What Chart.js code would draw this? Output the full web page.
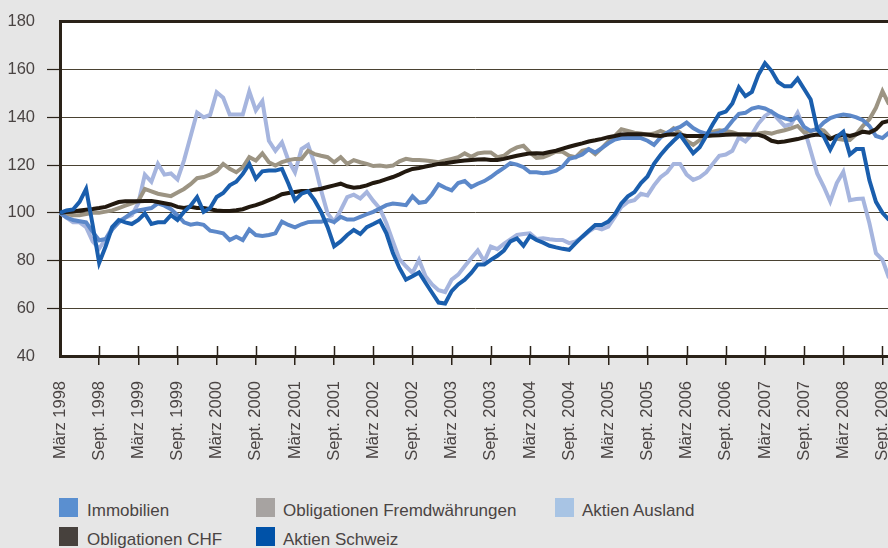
<!DOCTYPE html>
<html>
<head>
<meta charset="utf-8">
<script src="https://cdn.jsdelivr.net/npm/chart.js@4/dist/chart.umd.min.js"></script>
<style>
  html, body { margin: 0; padding: 0; background: #e6e6e6; width: 888px; height: 548px; overflow: hidden; }
  #wrap { position: relative; width: 888px; height: 548px; overflow: hidden; }
  canvas { position: absolute; left: 0; top: 0; }
  .sw { position: absolute; width: 19px; height: 19px; }
  .lt { position: absolute; font-family: "Liberation Sans", Arial, sans-serif; font-size: 17px; line-height: 19px; color: #4a4443; white-space: nowrap; }
</style>
</head>
<body>
<div id="wrap">
  <canvas id="c" width="890" height="470"></canvas>
  <div id="legend"></div>
</div>
<script>
// Tick labels shown every 6 months (März / Sept.)
const tickLabels = [
  "März 1998","Sept. 1998","März 1999","Sept. 1999","März 2000","Sept. 2000",
  "März 2001","Sept. 2001","März 2002","Sept. 2002","März 2003","Sept. 2003",
  "März 2004","Sept. 2004","März 2005","Sept. 2005","März 2006","Sept. 2006",
  "März 2007","Sept. 2007","März 2008","Sept. 2008"
];

// Monthly categories, March 1998 .. October 2008
const monthNames = ["Jan","Feb","März","Apr","Mai","Juni","Juli","Aug","Sept.","Okt","Nov","Dez"];
const categories = [];
for (let y = 1998; y <= 2008; y++) {
  for (let m = 0; m < 12; m++) {
    if (y === 1998 && m < 2) continue;
    if (y === 2008 && m > 9) continue;
    categories.push(monthNames[m] + " " + y);
  }
}

const seriesNames = ["Immobilien","Obligationen Fremdwährungen","Aktien Ausland","Obligationen CHF","Aktien Schweiz"];

const immobilien = [
  100,98,97,96.5,96,92,88.5,89,93,96,98,100,101,101.5,102,104,103,101.5,99,96,95,95.5,95,92.5,
  92,91.4,88.6,90,88.6,93,90.7,90.3,90.7,91.4,96.3,94.9,93.9,95.2,96.1,96.3,96.3,97,96.1,98.3,97.2,97.2,98.3,99.4,
  100.4,101.8,103.2,103.9,103.6,103.2,106.9,104.2,104.6,107.8,111.9,110.5,109.4,112.5,113.3,110.8,112.2,113.3,115,117,118.8,120.8,120.2,119.1,
  117,117,116.6,116.9,117.7,119.4,122.6,123.3,124.4,126.7,125.3,127.1,129.1,130.7,131.3,131.3,131.3,131.3,130.2,128.5,131.6,133.6,135,136,
  137.8,135.5,134,133.2,132.9,133.6,135,138.5,141.5,141.9,143.7,144.3,143.7,142.4,140.6,139.6,138.8,140.1,136,134.3,135,137.8,139.7,140.6,
  141.2,140.8,140,138.8,136.4,132.2,131.3,133.6
];

const obligFremd = [
  100,99.5,99,99,99.5,100,100,100.5,101,102,103,104,105,110,109,108,107.5,107,108.5,110,112,114.5,115,116,
  117.5,120.5,118.4,117,119.1,123.3,121.9,124.9,121.2,119.8,121.2,122.1,122.6,122.6,126,124.6,123.9,123.3,121.2,123.3,120.5,122.1,121.2,120.5,
  119.6,119.8,119.4,119.8,121.6,122.6,122.1,122.1,121.9,121.6,121.2,121.9,122.6,123.3,124.9,123.5,124.9,125.3,125.3,123.3,123.9,126,127.4,128.1,
  125.3,123,123.3,124.4,125.7,125.6,123.9,123.3,126,126.7,124.6,127.1,129.9,132.2,135,134.3,133.6,133.2,132.7,133.2,134.3,133.2,135.4,133.6,
  130.2,128.5,130.5,132.9,134,134.6,134.3,133.8,132.9,132.9,132.9,133.2,133.6,133.2,134,134.6,135.4,136.4,133.6,134.3,135.2,134.5,131.5,131,
  130.6,130.5,133,136.4,139.2,144,151,145.4
];

const aktienAusland = [
  100,98,96,96,94,88,85,89,94,96.5,98,99,104,116,113,120.5,116,116.5,114,122,132,142,140,141,
  150.5,148.2,141.2,141.2,141.2,150.9,142.9,146.8,130.2,126,129.5,121.9,117,126.7,128.5,120.5,109.4,99.7,96.3,101.1,106.6,107.6,106,108.7,
  105,101.8,95.6,88,80.6,77.6,74.8,80.3,73.4,70,67.6,66.8,72,74.1,77.6,81,84.2,79.7,85.9,84.8,87,88.9,90.7,91.1,
  91.4,89,89.3,88.9,88.6,88.6,87.3,88,89.8,92.1,93.9,93.1,94.2,98.3,102.5,104.6,105.3,108,107.3,111.5,114.9,117,120.5,120.5,
  116,113.8,114.9,117,120.5,123.9,124.4,126,131.6,129.9,132.9,137.4,140.6,142.4,139.2,136.4,137.1,141.9,135.4,126,116.5,111,104.7,112.5,
  117.2,105.3,105.8,106,95.6,83.1,80.3,72.7
];

const obligCHF = [
  100,100.3,100.5,101,101.3,101.6,102,102.5,103.5,104.5,104.8,104.8,104.8,105,105,104.5,104,103.5,102.5,102,102.5,102,102,101.5,
  101,100.8,100.8,101.1,101.5,102.5,103.2,104.2,105.3,106.4,107.8,108.3,108.7,109.1,109.1,109.7,110.1,110.8,111.5,112.2,111.1,110.5,110.8,111.5,
  112.5,113.2,114.1,115,116.1,117.4,118.4,118.8,119.4,119.9,120.5,120.8,121.2,121.6,121.9,122.1,122.3,122.4,122.1,122.1,122.6,123.3,123.9,124.4,
  124.9,125,124.9,125.5,126,126.9,127.7,128.4,129.1,129.9,130.4,131,131.7,132.2,132.8,132.9,132.9,132.9,132.8,132.4,132.2,132.7,132.9,132.7,
  132.2,132.2,132.2,132.2,132.4,132.5,132.7,132.8,132.8,132.8,132.7,132.7,131.8,130.2,129.6,129.9,130.4,130.9,131.6,132.4,132.8,132.4,130.9,132.2,
  132.7,132.2,132.9,134,133.6,135,137.8,138.5
];

const aktienSchweiz = [
  100,101,101.4,104.6,110,95,79,86,94,97,96,95.3,97,99.7,95.3,96,96,99,97,100.4,103,106.6,100.4,102,
  106.6,108.3,111.5,113,116.3,120.5,114.3,117.4,117.7,117.7,118.4,112.2,105.3,108,109,105.3,100.4,94,86,88,90.7,92.8,91.1,94,
  95.3,96.7,91.4,83.1,76.9,72,73.4,75,70.7,66.5,62.4,62,67.2,70,72,74.8,78.3,78.3,80.3,82,84.2,88,89.3,86.2,
  90.3,88.6,87.5,86.2,85.5,84.9,84.5,87.3,90,92.5,94.9,94.9,96.3,99.4,103.9,106.9,108.7,112.5,115.2,120.5,124.2,127.4,130.2,132.7,
  128.8,125,127.5,132.2,137.1,141.5,142.4,145.8,152.6,148.9,150.7,157.9,162.7,159.5,154.8,153,153,156.2,151.9,147.5,135,132,126.5,131.8,
  134,124.4,126.7,126.7,113.6,104.6,100,97
];

const lineColors = ["#5c88c9","#9c9483","#a6b5de","#22190f","#1a5ead"];
const legendColors = ["#5a8fd0","#a7a3a1","#a8c4e4","#47413d","#0052a8"];

const FONT = "'Liberation Sans', Arial, sans-serif";
const TEXT = "#4a4443";
const AXIS = "#2a2218";
const GRID = "#4a4232";

const bgPlugin = {
  id: "plotBg",
  beforeDraw(chart) {
    const a = chart.chartArea, ctx = chart.ctx;
    ctx.save();
    ctx.fillStyle = "#ffffff";
    ctx.fillRect(a.left, a.top, a.right - a.left, a.bottom - a.top);
    ctx.restore();
  }
};

// short inward tick marks on the x axis at each labelled position
const innerTicks = {
  id: "innerTicks",
  afterDraw(chart) {
    const x = chart.scales.x, a = chart.chartArea, ctx = chart.ctx;
    ctx.save();
    ctx.strokeStyle = AXIS;
    ctx.lineWidth = 1.5;
    for (let i = 6; i < categories.length; i += 6) {
      const px = Math.round(x.getPixelForValue(i)) + 0.5;
      ctx.beginPath();
      ctx.moveTo(px, a.bottom - 10);
      ctx.lineTo(px, a.bottom);
      ctx.stroke();
    }
    ctx.restore();
  }
};

const allSeries = [immobilien, obligFremd, aktienAusland, obligCHF, aktienSchweiz];
const drawOrder = [2, 3, 4, 1, 0];

new Chart(document.getElementById("c"), {
  type: "line",
  data: {
    labels: categories,
    datasets: allSeries.map((d, k) => ({
      label: seriesNames[k],
      data: d,
      borderColor: lineColors[k],
      backgroundColor: lineColors[k],
      borderWidth: 4,
      pointRadius: 0,
      tension: 0,
      fill: false,
      order: drawOrder[k],
      borderJoinStyle: "miter"
    }))
  },
  options: {
    responsive: false,
    animation: false,
    events: [],
    layout: { padding: { top: 19, right: 1, bottom: 0, left: 0 } },
    plugins: { legend: { display: false }, tooltip: { enabled: false } },
    scales: {
      x: {
        type: "category",
        offset: false,
        border: { display: true, color: AXIS, width: 3 },
        grid: {
          drawOnChartArea: false,
          drawTicks: true,
          tickLength: 9,
          lineWidth: 1.5,
          color: (c) => (c.index % 6 === 0 && c.index > 0) ? AXIS : "rgba(0,0,0,0)"
        },
        ticks: {
          autoSkip: false,
          minRotation: 90,
          maxRotation: 90,
          padding: 16,
          color: TEXT,
          font: { family: FONT, size: 16.5 },
          callback: (v, i) => (i % 6 === 0) ? tickLabels[i / 6] : ""
        },
        afterFit(s) { s.height = 114; s.paddingLeft = 0; s.paddingRight = 0; }
      },
      y: {
        min: 40,
        max: 180,
        border: { display: true, color: AXIS, width: 3 },
        grid: {
          color: (c) => c.tick && c.tick.value === 180 ? AXIS : GRID,
          lineWidth: (c) => c.tick && c.tick.value === 180 ? 3 : 1,
          tickLength: 13,
          tickWidth: 1.2,
          tickColor: (c) => (c.tick && (c.tick.value === 180 || c.tick.value === 40)) ? "rgba(0,0,0,0)" : AXIS
        },
        ticks: {
          stepSize: 20,
          padding: 12,
          color: TEXT,
          font: { family: FONT, size: 16.5 }
        },
        afterFit(s) { s.width = 60; }
      }
    }
  },
  plugins: [bgPlugin, innerTicks]
});

// HTML legend (3 columns, 2 rows)
const legendPos = [
  { sx: 59, tx: 87, y: 498 },
  { sx: 256, tx: 283, y: 498 },
  { sx: 555, tx: 582, y: 498 },
  { sx: 59, tx: 87, y: 527 },
  { sx: 256, tx: 283, y: 527 }
];
const legendOrder = [0, 1, 2, 3, 4];
const lg = document.getElementById("legend");
legendOrder.forEach((k, j) => {
  const p = legendPos[j];
  const sw = document.createElement("div");
  sw.className = "sw";
  sw.style.left = p.sx + "px";
  sw.style.top = p.y + "px";
  sw.style.background = legendColors[k];
  lg.appendChild(sw);
  const t = document.createElement("div");
  t.className = "lt";
  t.style.left = p.tx + "px";
  t.style.top = (p.y + 3) + "px";
  t.textContent = seriesNames[k];
  lg.appendChild(t);
});
</script>
</body>
</html>
